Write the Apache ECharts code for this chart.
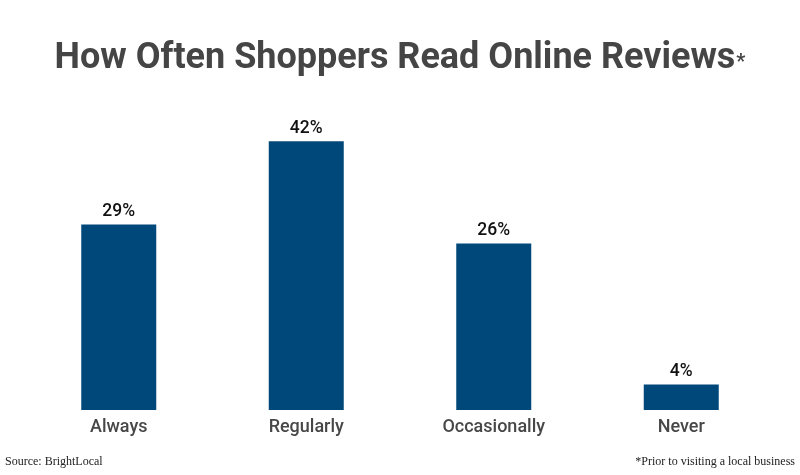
<!DOCTYPE html>
<html><head><meta charset="utf-8">
<script src="https://cdn.jsdelivr.net/npm/echarts@6/dist/echarts.min.js"></script>
<style>html,body{margin:0;padding:0;background:#fff}#c{width:800px;height:475px}</style>
</head><body><div id="c"></div>
<script>
const categories = ['Always', 'Regularly', 'Occasionally', 'Never'];
const values = [29, 42, 26, 4];
const titleText = 'How Often Shoppers Read Online Reviews';
const sourceText = 'Source: BrightLocal';
const noteText = '*Prior to visiting a local business';

const chart = echarts.init(document.getElementById('c'));
chart.setOption({
  backgroundColor: '#ffffff',
  animation: false,
  grid: { left: 25, right: 25, top: 90, height: 320, containLabel: false },
  xAxis: {
    type: 'category', data: categories,
    axisLine: { show: false }, axisTick: { show: false },
    axisLabel: { color: '#474747', fontFamily: 'Roboto', fontWeight: 500, fontSize: 18, margin: 8 }
  },
  yAxis: { type: 'value', min: 0, max: 50, show: false, splitLine: { show: false } },
  series: [{
    type: 'bar', data: values, barWidth: 75,
    itemStyle: { color: '#01487a' },
    label: { show: true, position: 'top', distance: 4, formatter: '{c}%', color: '#111', fontFamily: 'Roboto', fontWeight: 500, fontSize: 17.5 }
  }],
  graphic: [
    { type: 'text', left: 'center', top: 41,
      style: { rich: { t: { fontFamily: 'Roboto', fontWeight: 'bold', fontSize: 36, fill: '#454545' }, s: { fontFamily: 'Roboto', fontWeight: 'bold', fontSize: 20, fill: '#454545', verticalAlign: 'bottom', padding: [0, 0, 4, 1] } },
        text: '{t|' + titleText + '}{s|*}' } },
    { type: 'text', left: 5, top: 456, style: { text: sourceText, fontFamily: 'Liberation Serif', fontSize: 12, fill: '#222' } },
    { type: 'text', right: 5, top: 456, style: { text: noteText, fontFamily: 'Liberation Serif', fontSize: 12, fill: '#222' } }
  ]
});
</script></body></html>
